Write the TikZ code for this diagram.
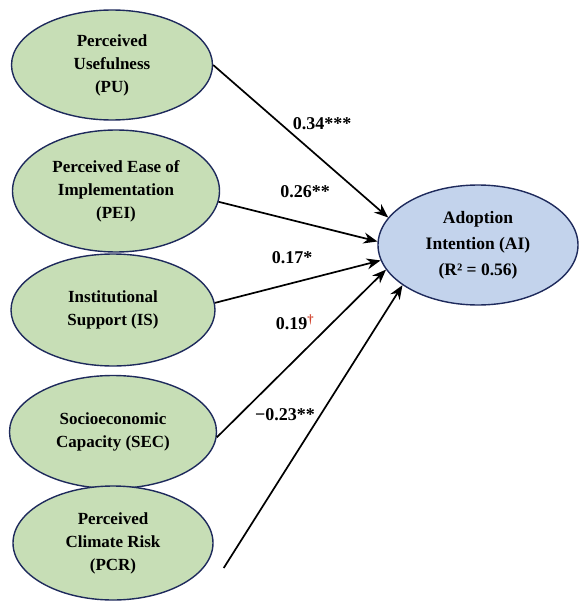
\documentclass[tikz,border=0pt]{standalone}
\usepackage{fontspec}
\setmainfont{Liberation Serif}
\usetikzlibrary{shapes.geometric,arrows.meta}
\definecolor{gfill}{HTML}{C7DEB6}
\definecolor{bfill}{HTML}{C3D3EC}
\definecolor{edgeblue}{HTML}{1E2A5C}
\definecolor{dagcol}{HTML}{D0402A}
\tikzset{
  var/.style={ellipse, draw=edgeblue, line width=1.4pt, fill=gfill, inner sep=0pt,
    align=center, font=\fontsize{17}{23}\selectfont\bfseries},
  dep/.style={var, fill=bfill, font=\fontsize{17.5}{26}\selectfont\bfseries},
  path/.style={line width=1.7pt, -{Stealth[length=14pt,width=11pt]}},
  coef/.style={font=\fontsize{18}{20}\selectfont\bfseries, inner sep=0pt}
}
\begin{document}
\begin{tikzpicture}[x=1pt,y=-1pt]
\useasboundingbox (0,0) rectangle (579,607);
\node[var, minimum width=201pt, minimum height=110pt] (PU) at (112,65) {Perceived\\Usefulness\\(PU)};
\node[var, minimum width=207pt, minimum height=122pt] (PEI) at (116,191) {Perceived Ease of\\Implementation\\(PEI)};
\node[var, minimum width=204pt, minimum height=112pt] (IS) at (113,310) {Institutional\\Support (IS)};
\node[var, minimum width=207pt, minimum height=113pt] (SEC) at (113,432) {Socioeconomic\\Capacity (SEC)};
\node[var, minimum width=200pt, minimum height=114pt] (PCR) at (113,543) {Perceived\\Climate Risk\\(PCR)};
\node[dep, minimum width=200pt, minimum height=120pt] (AI) at (478,245) {Adoption\\Intention (AI)\\(R² = 0.56)};
\coordinate (pcrstart) at ([shift={(10,25)}]PCR.east);
\draw[path] (PU.east) -- (AI.163);
\draw[path] (PEI.354) -- (AI.178);
\draw[path] (IS.4) -- (AI.189);
\draw[path] (SEC.357) -- (AI.195);
\draw[path] (pcrstart) -- (AI.208);
\node[coef] (c1) at (322,124) {0.34***};
\node[coef] (c2) at (305,192) {0.26**};
\node[coef] (c3) at (292,258) {0.17*};
\node[coef] (c4) at (295,322) {0.19\textsuperscript{\textcolor{dagcol}{†}}};
\node[coef] (c5) at (285,415) {−0.23**};
\end{tikzpicture}
\end{document}
